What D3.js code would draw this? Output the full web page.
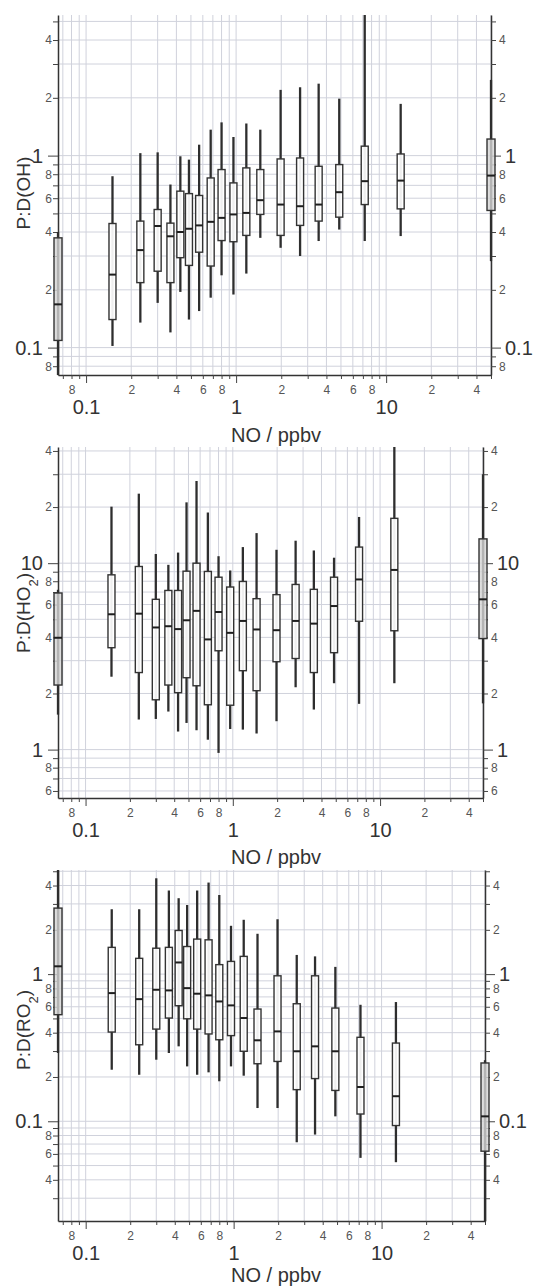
<!DOCTYPE html>
<html>
<head>
<meta charset="utf-8">
<script src="https://cdn.jsdelivr.net/npm/d3@7"></script>
<style>
  body { margin: 0; background: #fff; }
  svg { display: block; font-family: "Liberation Sans", Arial, sans-serif; }
</style>
</head>
<body>
<div id="chart"></div>
<script>
// NO bins (ppbv) shared by the three panels
const noBins = [0.15, 0.23, 0.30, 0.365, 0.425, 0.485, 0.567, 0.677, 0.80, 0.96, 1.17, 1.45, 1.98, 2.67, 3.55, 4.87, 7.2, 12.5];

// P:D(OH) box stats
const ohLow  = [0.102, 0.135, 0.171, 0.120, 0.195, 0.140, 0.155, 0.182, 0.238, 0.189, 0.243, 0.373, 0.331, 0.300, 0.359, 0.412, 0.359, 0.381];
const ohQ1   = [0.140, 0.218, 0.250, 0.218, 0.294, 0.268, 0.314, 0.266, 0.361, 0.356, 0.384, 0.494, 0.384, 0.433, 0.456, 0.478, 0.556, 0.528];
const ohMed  = [0.240, 0.322, 0.430, 0.380, 0.400, 0.416, 0.433, 0.452, 0.474, 0.494, 0.503, 0.586, 0.556, 0.545, 0.556, 0.645, 0.736, 0.741];
const ohQ3   = [0.443, 0.456, 0.524, 0.445, 0.653, 0.634, 0.620, 0.765, 0.846, 0.721, 0.863, 0.846, 0.961, 0.972, 0.880, 0.898, 1.12, 1.02];
const ohHigh = [0.781, 1.03, 1.04, 0.707, 0.992, 0.953, 1.14, 1.365, 1.49, 1.25, 1.47, 1.365, 2.20, 2.27, 2.37, 1.98, 6.0, 1.86];
// grey boxes on the axes: [low, q1, median, q3, high]
const ohEdgeLeft  = [0.06, 0.109, 0.168, 0.373, 0.40];
const ohEdgeRight = [0.282, 0.518, 0.787, 1.22, 2.48];

// P:D(HO2)
const ho2Low  = [2.46, 1.45, 1.46, 1.60, 1.25, 1.39, 1.27, 1.13, 0.96, 1.29, 1.28, 1.22, 1.42, 2.16, 1.64, 2.27, 1.76, 2.27];
const ho2Q1   = [3.52, 2.59, 1.85, 2.22, 2.02, 2.43, 2.20, 1.74, 3.39, 1.73, 2.65, 2.07, 2.96, 3.08, 2.59, 3.31, 4.88, 4.34];
const ho2Med  = [5.32, 5.36, 4.52, 4.59, 4.43, 4.94, 5.55, 3.90, 5.47, 4.23, 4.90, 4.41, 4.37, 4.90, 4.74, 5.89, 8.18, 9.2];
const ho2Q3   = [8.66, 9.60, 6.40, 7.14, 7.14, 9.06, 10.0, 9.03, 8.41, 7.45, 7.98, 6.45, 6.78, 7.69, 7.24, 8.41, 12.2, 17.4];
const ho2High = [20.1, 23.6, 11.2, 9.80, 11.4, 21.2, 27.6, 18.7, 10.9, 9.14, 12.2, 14.5, 11.8, 13.2, 11.7, 10.7, 17.7, 45];
const ho2EdgeLeft  = [1.54, 2.22, 3.98, 6.92, 7.2];
const ho2EdgeRight = [1.77, 3.94, 6.40, 13.5, 30];

// P:D(RO2)
const ro2Low  = [0.224, 0.207, 0.262, 0.291, 0.323, 0.236, 0.207, 0.215, 0.187, 0.236, 0.204, 0.123, 0.123, 0.0720, 0.0812, 0.108, 0.0564, 0.0527];
const ro2Q1   = [0.404, 0.331, 0.423, 0.503, 0.610, 0.497, 0.423, 0.392, 0.358, 0.382, 0.299, 0.246, 0.255, 0.164, 0.195, 0.162, 0.112, 0.0935];
const ro2Med  = [0.743, 0.676, 0.783, 0.775, 1.20, 0.803, 0.736, 0.717, 0.652, 0.613, 0.503, 0.355, 0.408, 0.299, 0.323, 0.299, 0.171, 0.148];
const ro2Q3   = [1.52, 1.28, 1.50, 1.52, 1.98, 1.54, 1.73, 1.71, 1.16, 1.22, 1.32, 0.579, 0.974, 0.629, 0.974, 0.588, 0.372, 0.340];
const ro2High = [2.76, 2.76, 4.48, 3.70, 3.28, 2.95, 3.70, 4.19, 3.45, 2.13, 2.34, 1.88, 2.36, 1.35, 1.32, 1.12, 0.619, 0.646];
const ro2EdgeLeft  = [0.291, 0.530, 1.13, 2.81, 5.5];
const ro2EdgeRight = [0.02, 0.0626, 0.108, 0.249, 0.26];

const xDomain = [0.065, 50];
const minorLabels = [2, 4, 6, 8];

const panels = [
    {id: "oh", name: "OH", sub: null, top: 15, bottom: 375, right: 491, yDomain: [0.072, 5.4],
     low: ohLow, q1: ohQ1, med: ohMed, q3: ohQ3, high: ohHigh, edgeL: ohEdgeLeft, edgeR: ohEdgeRight, titleY: 193, xTitleY: 435},
    {id: "ho2", name: "HO", sub: "2", top: 447, bottom: 798, right: 483, yDomain: [0.55, 42],
     low: ho2Low, q1: ho2Q1, med: ho2Med, q3: ho2Q3, high: ho2High, edgeL: ho2EdgeLeft, edgeR: ho2EdgeRight, titleY: 613, xTitleY: 857},
    {id: "ro2", name: "RO", sub: "2", top: 870, bottom: 1221, right: 485, yDomain: [0.021, 5.1],
     low: ro2Low, q1: ro2Q1, med: ro2Med, q3: ro2Q3, high: ro2High, edgeL: ro2EdgeLeft, edgeR: ro2EdgeRight, titleY: 1030, xTitleY: 1275}
];

const left = 58;
const gridColor = "#d0d2dc";
const axisColor = "#333";

const svg = d3.select("#chart")
    .append("svg")
    .attr("width", 538)
    .attr("height", 1288);

// all 1..9 x 10^n values inside a domain
function logTicks(domain) {
    const out = [];
    for (let d = Math.floor(Math.log10(domain[0])); d <= Math.ceil(Math.log10(domain[1])); d++) {
        for (let k = 1; k <= 9; k++) {
            const v = +(k * Math.pow(10, d)).toPrecision(3);
            if (v >= domain[0] && v <= domain[1]) out.push(v);
        }
    }
    return out;
}
const lead = v => Math.round(v / Math.pow(10, Math.floor(Math.log10(v) + 1e-9)));
const isMajor = v => lead(v) === 1;
const fmt = v => isMajor(v) ? d3.format("~g")(v) : (minorLabels.includes(lead(v)) ? String(lead(v)) : "");

panels.forEach(p => {
    const x = d3.scaleLog().domain(xDomain).range([left, p.right]);
    const y = d3.scaleLog().domain(p.yDomain).range([p.bottom, p.top]);
    const xt = logTicks(xDomain);
    const yt = logTicks(p.yDomain);

    const g = svg.append("g");

    // grid
    g.selectAll(".vgrid").data(xt).join("line")
        .attr("x1", d => x(d)).attr("x2", d => x(d))
        .attr("y1", p.top).attr("y2", p.bottom)
        .attr("stroke", gridColor).attr("stroke-width", 1);
    g.selectAll(".hgrid").data(yt).join("line")
        .attr("x1", left).attr("x2", p.right)
        .attr("y1", d => y(d)).attr("y2", d => y(d))
        .attr("stroke", gridColor).attr("stroke-width", 1);

    // bottom axis
    const gx = g.append("g")
        .attr("transform", "translate(0," + p.bottom + ")")
        .call(d3.axisBottom(x).tickValues(xt).tickFormat(fmt).tickSizeOuter(0));
    gx.selectAll(".tick line").attr("y2", d => isMajor(d) ? 8 : 4);
    gx.selectAll(".tick text")
        .attr("y", d => isMajor(d) ? 25 : 10)
        .style("font-size", d => isMajor(d) ? "20px" : "12px")
        .attr("fill", d => isMajor(d) ? "#333" : "#555");

    // left axis
    const gl = g.append("g")
        .attr("transform", "translate(" + left + ",0)")
        .call(d3.axisLeft(y).tickValues(yt).tickFormat(fmt).tickSizeOuter(0));
    gl.selectAll(".tick line").attr("x2", d => isMajor(d) ? -10 : -5);
    gl.selectAll(".tick text")
        .attr("x", d => isMajor(d) ? -15 : -6)
        .style("font-size", d => isMajor(d) ? "20px" : "12px")
        .attr("fill", d => isMajor(d) ? "#333" : "#555");

    // right axis
    const gr = g.append("g")
        .attr("transform", "translate(" + p.right + ",0)")
        .call(d3.axisRight(y).tickValues(yt).tickFormat(fmt).tickSizeOuter(0));
    gr.selectAll(".tick line").attr("x2", d => isMajor(d) ? 10 : 5);
    gr.selectAll(".tick text")
        .attr("x", d => isMajor(d) ? 14 : 8)
        .style("font-size", d => isMajor(d) ? "20px" : "12px")
        .attr("fill", d => isMajor(d) ? "#333" : "#555");

    [gx, gl, gr].forEach(a => {
        a.select(".domain").attr("stroke", axisColor).attr("stroke-width", 1.5);
        a.selectAll(".tick line").attr("stroke", "#444");
        a.attr("font-family", null);
    });

    // clip whiskers at plot edges
    svg.append("clipPath").attr("id", "clip-" + p.id)
        .append("rect")
        .attr("x", left - 12).attr("y", p.top)
        .attr("width", p.right - left + 24).attr("height", p.bottom - p.top);

    const rows = noBins.map((no, i) => ({
        no: no, low: p.low[i], q1: p.q1[i], med: p.med[i], q3: p.q3[i], high: p.high[i], edge: false
    }));
    [[xDomain[0], p.edgeL], [xDomain[1], p.edgeR]].forEach(([no, s]) => {
        rows.push({no: no, low: s[0], q1: s[1], med: s[2], q3: s[3], high: s[4], edge: true});
    });

    const boxes = g.append("g").attr("clip-path", "url(#clip-" + p.id + ")")
        .selectAll("g").data(rows).join("g");

    boxes.append("line")
        .attr("x1", d => x(d.no)).attr("x2", d => x(d.no))
        .attr("y1", d => y(d.low)).attr("y2", d => y(d.high))
        .attr("stroke", "#2e2e2e").attr("stroke-width", 2.3);

    boxes.append("rect")
        .attr("x", d => x(d.no) - (d.edge ? 4 : 3.5))
        .attr("width", d => d.edge ? 8 : 7)
        .attr("y", d => y(d.q3))
        .attr("height", d => y(d.q1) - y(d.q3))
        .attr("fill", d => d.edge ? "#d6d6d6" : "#fff")
        .attr("fill-opacity", d => d.edge ? 0.8 : 0.92)
        .attr("stroke", "#333").attr("stroke-width", 1.4);

    boxes.append("line")
        .attr("x1", d => x(d.no) - (d.edge ? 4 : 3.5)).attr("x2", d => x(d.no) + (d.edge ? 4 : 3.5))
        .attr("y1", d => y(d.med)).attr("y2", d => y(d.med))
        .attr("stroke", "#1e1e1e").attr("stroke-width", 2);

    // axis titles
    const yTitle = svg.append("text")
        .attr("transform", "translate(23," + p.titleY + ") rotate(-90)")
        .attr("text-anchor", "middle")
        .attr("dy", "0.35em")
        .style("font-size", "19px")
        .attr("fill", "#333")
        .text("P:D(" + p.name);
    if (p.sub) {
        yTitle.append("tspan").attr("baseline-shift", "sub").style("font-size", "13px").text(p.sub);
    }
    yTitle.append("tspan").text(")");

    svg.append("text")
        .attr("x", 276)
        .attr("y", p.xTitleY)
        .attr("dy", "0.35em")
        .attr("text-anchor", "middle")
        .style("font-size", "20px")
        .attr("fill", "#333")
        .text("NO / ppbv");
});
</script>
</body>
</html>
